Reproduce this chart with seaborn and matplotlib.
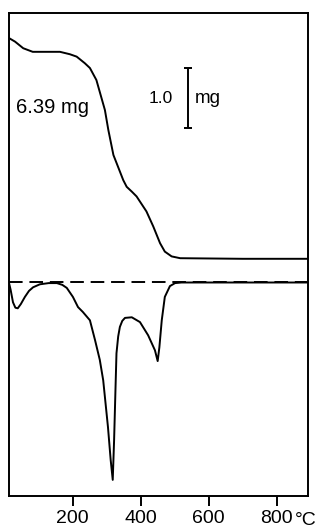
import pandas as pd
import seaborn as sns
import matplotlib.pyplot as plt

# TG curve: temperature (°C) and sample mass (mg)
tg_temp = [13, 31, 55, 83, 163, 192, 212, 236, 251, 270, 280, 295, 305, 315, 320, 329, 349,
           359, 374, 388, 417, 437, 457, 471, 491, 516, 700, 890]
tg_mass = [6.39, 6.33, 6.22, 6.16, 6.16, 6.12, 6.08, 5.97, 5.89, 5.69, 5.49, 5.19, 4.86, 4.58,
           4.44, 4.31, 4.02, 3.91, 3.83, 3.75, 3.50, 3.25, 2.97, 2.83, 2.75, 2.72, 2.71, 2.71]

# DTG curve: deflection below the baseline (arbitrary units, same scale as mg)
dtg_temp = [13, 18, 25, 32, 39, 48, 60, 72, 84, 104, 130, 154, 170, 183, 201, 216, 230,
            251, 266, 280, 290, 304, 312, 318, 322, 326, 329, 334, 339, 346, 354, 374, 398, 422,
            442, 450, 455, 462, 471, 486, 501, 520, 890]
dtg_defl = [0.0, 0.12, 0.33, 0.42, 0.43, 0.36, 0.24, 0.14, 0.08, 0.03, 0.01, 0.01, 0.04, 0.09,
            0.24, 0.41, 0.49, 0.63, 0.96, 1.29, 1.63, 2.41, 2.96, 3.29, 2.63, 1.79, 1.18,
            0.90, 0.74, 0.64, 0.59, 0.58, 0.66, 0.88, 1.13, 1.31, 1.08, 0.63, 0.24, 0.06, 0.01,
            0.0, 0.0]
dtg_base = 2.315

x_ticks = [200, 400, 600, 800]

tg = pd.DataFrame({'T': tg_temp, 'm': tg_mass})
dtg = pd.DataFrame({'T': dtg_temp, 'd': [dtg_base - v for v in dtg_defl]})

sns.set_style('white')
plt.rcParams['font.family'] = ['Liberation Sans', 'DejaVu Sans']
plt.rcParams['text.color'] = 'black'
plt.rcParams['xtick.color'] = 'black'

fig = plt.figure(figsize=(3.18, 5.31), dpi=100)
ax = fig.add_axes([0.028, 0.066, 0.941, 0.9095])

# baseline for DTG
ax.plot([13, 890], [dtg_base, dtg_base], color='black', lw=1.4, dashes=(7, 3.5))
sns.lineplot(data=tg, x='T', y='m', ax=ax, color='black', lw=1.4, estimator=None)
sns.lineplot(data=dtg, x='T', y='d', ax=ax, color='black', lw=1.4, estimator=None)
for ln in ax.lines:
    ln.set_solid_joinstyle('round')

ax.set_xlim(13, 892)
ax.set_ylim(-1.243, 6.807)
ax.set_xticks(x_ticks)
ax.set_xticklabels([str(t) for t in x_ticks], fontsize=14)
ax.set_yticks([])
ax.set_xlabel('')
ax.set_ylabel('')
ax.tick_params(axis='x', direction='out', length=7, width=1.4, pad=3, bottom=True, colors='black')
for s in ax.spines.values():
    s.set_color('black')
    s.set_linewidth(1.4)

# °C next to the last tick label
ax.text(853, -1.243 - 0.27, '°C', fontsize=14, ha='left', va='top', clip_on=False)

# annotations
ax.text(33, 5.24, '6.39 mg', fontsize=14.5, ha='left', va='center')
ax.text(495, 5.39, '1.0', fontsize=12.5, ha='right', va='center')
ax.text(560, 5.39, 'mg', fontsize=13.5, ha='left', va='center')
# 1.0 mg scale bar
ax.errorbar([540], [5.385], yerr=[0.5], color='black', lw=1.4, capsize=3, capthick=1.4)

fig.savefig('out.png', dpi=100)
